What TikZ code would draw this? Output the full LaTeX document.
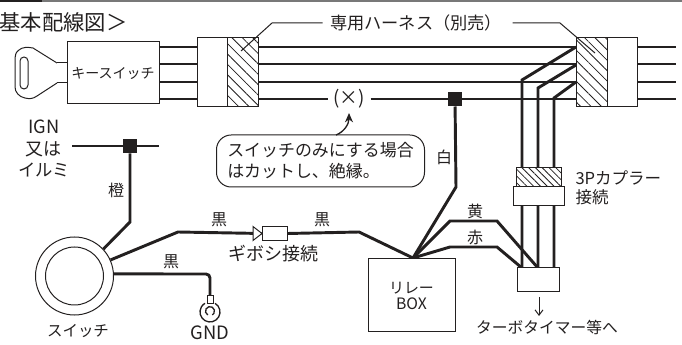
\documentclass[tikz,border=0pt]{standalone}
\usepackage{fontspec}
\setmainfont{Noto Sans CJK JP}
\usetikzlibrary{arrows.meta,backgrounds,patterns.meta}

\definecolor{inkc}{RGB}{35,32,32}
\definecolor{rulec}{RGB}{120,120,120}
\tikzset{every picture/.style={line width=0.75pt}}
\tikzset{
  wire/.style={draw=inkc,line width=2.2pt},
  thinl/.style={draw=inkc,line width=0.75pt},
  partbox/.style={draw=inkc,fill=white,line width=0.75pt,inner sep=0pt,text=inkc},
  hatchbox/.style={draw=inkc,line width=0.75pt,inner sep=0pt,preaction={fill=white},pattern={Lines[angle=-45,distance=#1,line width=0.6pt]},pattern color=inkc},
  joint/.style={fill=inkc,inner sep=0pt,minimum size=10.5pt},
  lbl/.style={inner sep=0pt,text=inkc,font=\fontsize{#1}{#1}\selectfont},
  lbl/.default=12
}

\begin{document}
\begin{tikzpicture}[x=0.75pt,y=0.75pt,yscale=-1,xscale=1]
\useasboundingbox (0,0) rectangle (682,345);

%Top rule
\draw [rulec,line width=0.8pt] (42,1) -- (682,1) ;
\draw [inkc,line width=1.6pt] (0,1) -- (42,1) ;

% Text Node
\node [lbl=16,anchor=west] (title) at (-1,22) {基本配線図＞};

%Parts
\node [partbox,minimum width=69pt,minimum height=46.5pt,font=\fontsize{10.5}{10.5}\selectfont] (keysw) at (113,73) {キースイッチ};
\node [partbox,minimum width=22.5pt,minimum height=51.75pt] (connLw) at (212,72.5) {};
\node [hatchbox=5.5pt,minimum width=23.25pt,minimum height=51.75pt] (connLh) at (242.5,72.5) {};
\node [hatchbox=5.5pt,minimum width=23.25pt,minimum height=51.75pt] (connRh) at (591.5,72.5) {};
\node [partbox,minimum width=22.5pt,minimum height=51.75pt] (connRw) at (622,72.5) {};
\node [hatchbox=3.6pt,minimum width=33.75pt,minimum height=14.25pt] (cplh) at (538.5,177.5) {};
\node [partbox,minimum width=38.25pt,minimum height=14.25pt] (cpl) at (538.5,196.5) {};
\node [partbox,minimum width=31.5pt,minimum height=18pt] (timer) at (538,280) {};
\node [partbox,minimum width=65.25pt,minimum height=54.75pt,align=center] (relay) at (411.5,295.5) {\fontsize{11.2}{14.25}\selectfont リレー\\\fontsize{11.8}{14.25}\selectfont BOX};
\node [draw=inkc,circle,minimum size=58.5pt,inner sep=0pt] (swOut) at (74.5,276) {};
\node [draw=inkc,circle,minimum size=43.5pt,inner sep=0pt] (swIn) at (74.5,276) {};
\node [partbox,minimum width=18.75pt,minimum height=10pt] (gibo) at (274.5,233.5) {};
\node [partbox,minimum width=4.5pt,minimum height=5.5pt] (gndTop) at (210,299.5) {};
\node [joint] (jIgn) at (130,146) {};
\node [joint] (jCut) at (455,99) {};

% Text Node
\node [lbl=12.9] (harness) at (416,23) {専用ハーネス（別売）};
\node [lbl=14,minimum width=31.5pt] (cut) at (349,99) {(×)};
\node [partbox,rounded corners=11pt,minimum width=156pt,minimum height=39pt,align=left,font=\fontsize{12.7}{15.75}\selectfont] (callout) at (320.5,161) {スイッチのみにする場合\\はカットし、絶縁。};
\node [lbl=13.7] (ign) at (44,127) {IGN};
\node [lbl=13.5] (matawa) at (44,149) {又は};
\node [lbl=13] (irumi) at (44,170) {イルミ};
\node [lbl=12] (orange) at (116,190) {橙};
\node [lbl=12] (white) at (444,157) {白};
\node [lbl=12] (blackA) at (219,220) {黒};
\node [lbl=12] (blackB) at (322,220) {黒};
\node [lbl=12] (blackC) at (171,262) {黒};
\node [lbl=13.5] (giboTxt) at (273,254) {ギボシ接続};
\node [lbl=12] (yellow) at (475,211) {黄};
\node [lbl=12] (red) at (475,237) {赤};
\node [lbl=11.6] (swTxt) at (78,331) {スイッチ};
\node [lbl=13.8] (gndTxt) at (210,333) {GND};
\node [lbl=12.4,anchor=west] (cplA) at (575,178) {3Pカプラー};
\node [lbl=12.4,anchor=west] (cplB) at (575,197) {接続};
\node [lbl=11.8] (timerTxt) at (547,327) {ターボタイマー等へ};

%Wire points
\coordinate (kA) at (159,47);
\coordinate (kB) at (159,64);
\coordinate (kC) at (159,82);
\coordinate (kD) at (159,99);
\coordinate (eA) at (676,47);
\coordinate (eB) at (676,64);
\coordinate (eC) at (676,82);
\coordinate (eD) at (676,99);
\coordinate (ignL) at (72,146);
\coordinate (ignR) at (159,146);
\coordinate (ignBend) at (130,222);
\coordinate (blkBend) at (178,232);
\coordinate (blkEnd) at (359,232);
\coordinate (gndBend) at (210,274);
\coordinate (whiteBend) at (456,187);
\coordinate (relayTop) at (413,258);
\coordinate (yelA) at (450,221);
\coordinate (yelB) at (497,221);
\coordinate (redA) at (450,247);
\coordinate (redB) at (497,247);
\coordinate (brA) at (576,47);
\coordinate (brB) at (576,65);
\coordinate (brC) at (576,82);
\coordinate (brAk) at (522,80);
\coordinate (brBk) at (538,88);
\coordinate (brCk) at (554,98);
\coordinate (tmA) at (522,268);
\coordinate (tmB) at (538,268);
\coordinate (tmC) at (554,268);

\begin{scope}[on background layer]
%Harness
\draw [wire] (kA) -- (eA) ;
\draw [wire] (kB) -- (eB) ;
\draw [wire] (kC) -- (eC) ;
\draw [wire] (kD) -- (cut.west) ;
\draw [wire] (cut.east) -- (eD) ;
%Branches to coupler
\draw [wire] (brA) -- (brAk) -- (tmA) ;
\draw [wire] (brB) -- (brBk) -- (tmB) ;
\draw [wire] (brC) -- (brCk) -- (tmC) ;
%Switch wires
\draw [wire] (ignL) -- (ignR) ;
\draw [wire] (jIgn) -- (ignBend) -- (swOut.43) ;
\draw [wire] (swOut.24) -- (blkBend) -- (gibo.west) ;
\draw [wire] (gibo.east) -- (blkEnd) -- (relayTop) ;
\draw [wire,rounded corners=3] (swOut.3) -- (gndBend) -- (gndTop.south) ;
%Relay wires
\draw [wire] (jCut) -- (whiteBend) -- (relayTop) ;
\draw [wire] (relayTop) -- (yelA) -- (yelB) -- (tmB) ;
\draw [wire] (relayTop) -- (redA) -- (redB) -- (tmA) ;
\end{scope}

%Gibosi terminal
\draw [thinl,fill=white] (253,226.5) -- (262,233.5) -- (253,240.5) -- cycle ;
%Leaders
\draw [thinl] (harness.west) ++(-7,0) -- (272,23) -- (241,51) ;
\draw [thinl] (harness.east) ++(10,0) -- (560,23) -- (595,53) ;
%Callout arrow
\coordinate (callA) at (336,135);
\coordinate (callB) at (349,113);
\draw [inkc,line width=1pt,-{Stealth[length=7pt,width=6pt]}] (callA) .. controls (344,132) and (349,124) .. (callB) ;
%Output arrow
\coordinate (arrA) at (539,297);
\coordinate (arrB) at (539,316);
\draw [thinl,-{Straight Barb[length=4pt,width=6pt]}] (arrA) -- (arrB) ;
%GND symbol
\draw [inkc,line width=1pt] (215,303.3) arc [start angle=-60,end angle=240,radius=10] ;
\draw [inkc,line width=1pt] (207.75,315) arc [start angle=120,end angle=420,radius=4.5] ;
%Key
\draw [thinl] (57,63) -- (33,48) .. controls (28,47) and (22,47) .. (19,50) .. controls (16,52) and (15,55) .. (15,58) -- (15,87) .. controls (15,92) and (19,97) .. (25,98) .. controls (29,99) and (33,99) .. (37,96) -- (57,83) ;
\draw [thinl] (57,63) -- (keysw.west |- 57,63) ;
\draw [thinl] (57,83) -- (keysw.west |- 57,83) ;
\draw [thinl,rounded corners=3] (20,57) rectangle (28,89) ;
\end{tikzpicture}
\end{document}
